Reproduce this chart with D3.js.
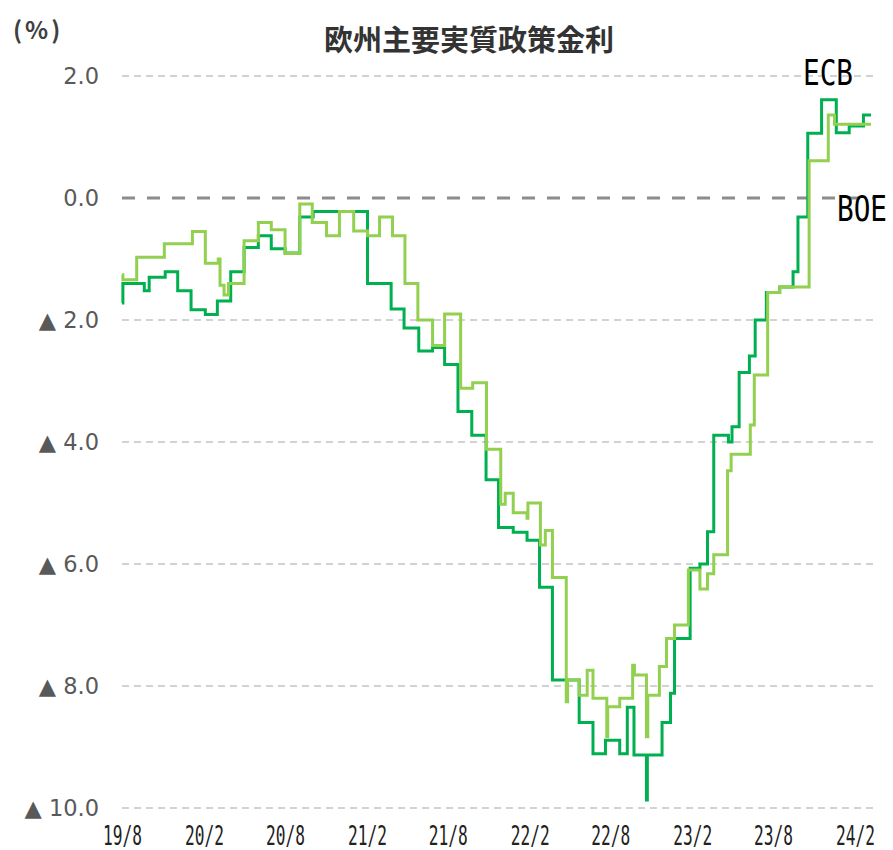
<!DOCTYPE html>
<html>
<head>
<meta charset="utf-8">
<script src="https://cdn.jsdelivr.net/npm/d3@7"></script>
<style>
  body { margin: 0; background: #fff; }
  svg { display: block; }
</style>
</head>
<body>
<svg id="chart" width="893" height="850"></svg>
<script>
// 欧州主要実質政策金利（政策金利 − CPI）
const title = "欧州主要実質政策金利";
const unitLabel = "(%)";
const yTicks = [2, 0, -2, -4, -6, -8, -10];
const xTicks = ["2019-08-01", "2020-02-01", "2020-08-01", "2021-02-01", "2021-08-01",
                "2022-02-01", "2022-08-01", "2023-02-01", "2023-08-01", "2024-02-01"];
const endDate = "2024-03-08";

const ecb = [
  ["2019-08-01", -1.72], ["2019-08-03", -1.40], ["2019-09-20", -1.52], ["2019-10-01", -1.30],
  ["2019-11-06", -1.21], ["2019-12-04", -1.52], ["2020-01-03", -1.83], ["2020-02-04", -1.91],
  ["2020-03-02", -1.69], ["2020-04-01", -1.21], ["2020-05-01", -0.81], ["2020-06-02", -0.62],
  ["2020-07-01", -0.83], ["2020-08-01", -0.90], ["2020-09-03", -0.31], ["2020-10-03", -0.22],
  ["2021-02-02", -1.40], ["2021-03-27", -1.82], ["2021-04-25", -2.13], ["2021-05-28", -2.51],
  ["2021-06-28", -2.45], ["2021-07-25", -2.73], ["2021-08-24", -3.50], ["2021-09-24", -3.89],
  ["2021-10-26", -4.62], ["2021-11-23", -5.40], ["2021-12-26", -5.48], ["2022-01-26", -5.61],
  ["2022-02-23", -6.38], ["2022-03-24", -7.90], ["2022-05-23", -8.60], ["2022-06-23", -9.11],
  ["2022-07-21", -8.89], ["2022-08-22", -9.11], ["2022-09-08", -8.35], ["2022-09-23", -9.13],
  ["2022-10-21", -9.87], ["2022-10-23", -9.13], ["2022-11-25", -8.60], ["2022-12-14", -8.12],
  ["2022-12-23", -7.22], ["2023-01-27", -6.07], ["2023-02-18", -6.00], ["2023-03-07", -5.47],
  ["2023-03-21", -3.89], ["2023-04-23", -4.00], ["2023-05-01", -3.75], ["2023-05-17", -2.86],
  ["2023-06-09", -2.59], ["2023-06-22", -2.00], ["2023-07-17", -1.55], ["2023-08-16", -1.46],
  ["2023-09-15", -1.21], ["2023-09-26", -0.31], ["2023-10-18", 1.06], ["2023-11-18", 1.61],
  ["2023-12-21", 1.07], ["2024-01-19", 1.18], ["2024-02-20", 1.36]
];

const boe = [
  ["2019-08-01", -1.26], ["2019-08-03", -1.34], ["2019-09-03", -0.97], ["2019-11-04", -0.75],
  ["2020-01-06", -0.55], ["2020-02-04", -1.07], ["2020-03-04", -1.00], ["2020-03-08", -1.43],
  ["2020-03-17", -1.59], ["2020-03-27", -1.40], ["2020-05-01", -0.70], ["2020-06-02", -0.40],
  ["2020-07-01", -0.52], ["2020-08-01", -0.91], ["2020-09-03", -0.10], ["2020-10-01", -0.40],
  ["2020-11-02", -0.62], ["2020-12-01", -0.22], ["2021-01-02", -0.54], ["2021-02-02", -0.62],
  ["2021-03-01", -0.31], ["2021-03-30", -0.62], ["2021-04-27", -1.40], ["2021-05-26", -2.00],
  ["2021-06-28", -2.42], ["2021-07-25", -1.90], ["2021-08-30", -3.12], ["2021-09-26", -3.03],
  ["2021-10-27", -4.12], ["2021-11-28", -5.02], ["2021-12-08", -4.84], ["2021-12-26", -5.16],
  ["2022-01-26", -5.25], ["2022-01-28", -5.00], ["2022-02-25", -5.69], ["2022-03-08", -5.45],
  ["2022-03-24", -6.22], ["2022-04-24", -8.26], ["2022-04-27", -7.90], ["2022-05-23", -8.15],
  ["2022-06-10", -7.74], ["2022-06-23", -8.20], ["2022-07-24", -8.83], ["2022-07-26", -8.34],
  ["2022-08-22", -8.20], ["2022-09-20", -7.66], ["2022-09-24", -7.82], ["2022-10-21", -8.83],
  ["2022-10-24", -8.15], ["2022-11-19", -7.68], ["2022-12-05", -7.22], ["2022-12-23", -7.00],
  ["2023-01-23", -6.10], ["2023-02-18", -6.41], ["2023-03-07", -6.16], ["2023-03-21", -5.85],
  ["2023-04-21", -4.47], ["2023-04-29", -4.20], ["2023-06-11", -3.72], ["2023-06-20", -2.90],
  ["2023-07-20", -1.55], ["2023-08-16", -1.46], ["2023-10-21", 0.61], ["2023-12-03", 1.36],
  ["2023-12-17", 1.21]
];

const parse = d3.timeParse("%Y-%m-%d");
const svg = d3.select("#chart");

const x = d3.scaleTime()
  .domain([parse("2019-08-01"), parse("2024-02-01")])
  .range([122, 855]);
const y = d3.scaleLinear().domain([-10, 2]).range([808, 76]);
const plotLeft = 122, plotRight = 873;

// グリッド線
svg.append("g").selectAll("line")
  .data(yTicks)
  .join("line")
    .attr("x1", plotLeft)
    .attr("x2", plotRight)
    .attr("y1", d => y(d))
    .attr("y2", d => y(d))
    .attr("stroke", d => d === 0 ? "#8c8c8c" : "#c4c4c4")
    .attr("stroke-width", d => d === 0 ? 3 : 1.4)
    .attr("stroke-dasharray", d => d === 0 ? "13,12" : "7,5");

// Y軸
const yAxis = svg.append("g")
  .attr("transform", `translate(99,0)`)
  .call(d3.axisLeft(y).tickValues(yTicks).tickSize(0).tickPadding(0)
    .tickFormat(d => d < 0 ? "▲ " + Math.abs(d).toFixed(1) : d.toFixed(1)));
yAxis.select(".domain").remove();
yAxis.selectAll("text")
  .attr("font-family", "DejaVu Sans, sans-serif")
  .attr("font-size", 22.5)
  .attr("fill", "#595959");

// X軸
const xAxis = svg.append("g")
  .attr("transform", `translate(0,845)`)
  .call(d3.axisBottom(x).tickValues(xTicks.map(parse)).tickSize(0).tickPadding(0)
    .tickFormat(d3.timeFormat("%y/%-m")));
xAxis.select(".domain").remove();
xAxis.selectAll("text")
  .attr("dy", 0)
  .attr("font-family", "DejaVu Sans Mono, monospace")
  .attr("font-size", 27)
  .attr("fill", "#222")
  .attr("transform", "scale(0.6,1)");

// 系列
const line = d3.line()
  .x(d => x(parse(d[0])))
  .y(d => y(d[1]))
  .curve(d3.curveStepAfter);

const series = [
  { name: "ECB", data: ecb, color: "#00b050" },
  { name: "BOE", data: boe, color: "#92d050" }
];

svg.append("g").selectAll("path")
  .data(series)
  .join("path")
    .attr("d", s => line([...s.data, [endDate, s.data[s.data.length - 1][1]]]))
    .attr("fill", "none")
    .attr("stroke", s => s.color)
    .attr("stroke-width", 3)
    .attr("stroke-linejoin", "miter");

// 系列ラベル
const labels = [
  { text: "ECB", x: 803, y: 85 },
  { text: "BOE", x: 837, y: 221 }
];
svg.append("g").selectAll("g")
  .data(labels)
  .join("g")
    .attr("transform", d => `translate(${d.x},${d.y}) scale(0.77,1)`)
  .append("text")
    .text(d => d.text)
    .attr("font-family", "DejaVu Sans Mono, monospace")
    .attr("font-size", 36)
    .attr("fill", "#000");

// タイトル
svg.append("text")
  .attr("x", 469)
  .attr("y", 51)
  .attr("text-anchor", "middle")
  .attr("font-family", "Noto Sans CJK JP, sans-serif")
  .attr("font-weight", "bold")
  .attr("font-size", 29)
  .attr("fill", "#333")
  .text(title);

svg.append("text")
  .attr("x", 13)
  .attr("y", 39)
  .attr("font-family", "Noto Sans CJK JP, sans-serif")
  .attr("font-weight", "bold")
  .attr("font-size", 24)
  .attr("letter-spacing", 3)
  .attr("fill", "#404040")
  .text(unitLabel);
</script>
</body>
</html>
